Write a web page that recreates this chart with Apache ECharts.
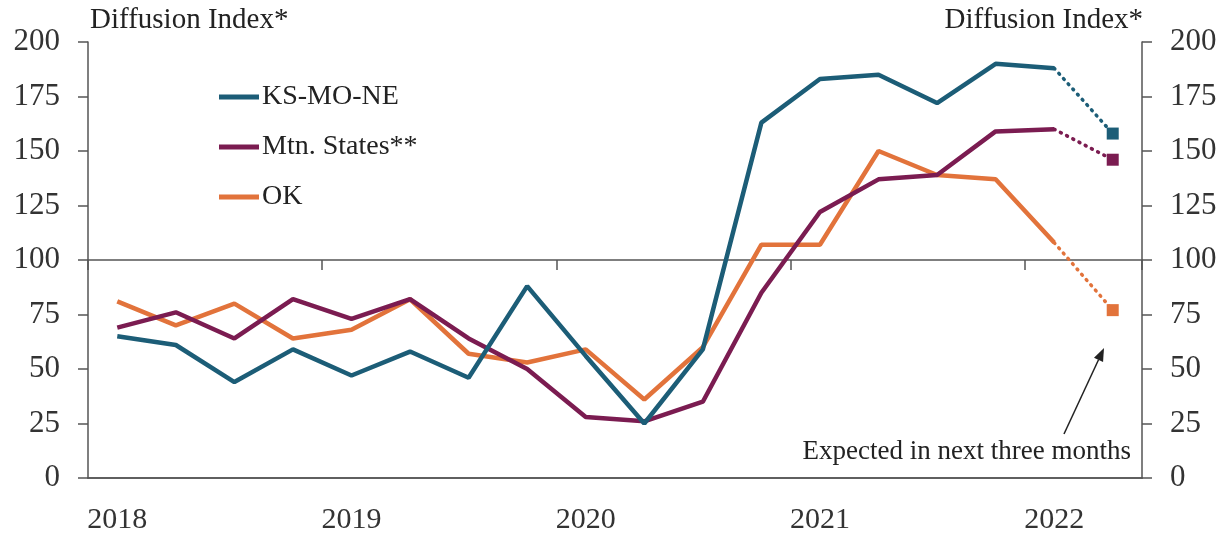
<!DOCTYPE html>
<html>
<head>
<meta charset="utf-8">
<script src="https://cdn.jsdelivr.net/npm/echarts@6/dist/echarts.min.js"></script>
<style>
html, body { margin: 0; background: #fff; }
#chart { width: 1229px; height: 539px; }
</style>
</head>
<body>
<div id="chart"></div>
<script>
// quarterly, 2018Q1 .. 2022Q2 (last quarter is the expectation)
const quarters = ['2018Q1','2018Q2','2018Q3','2018Q4','2019Q1','2019Q2','2019Q3','2019Q4',
    '2020Q1','2020Q2','2020Q3','2020Q4','2021Q1','2021Q2','2021Q3','2021Q4','2022Q1','2022Q2'];
const names = ['KS-MO-NE', 'Mtn. States**', 'OK'];
const ksmone = [65, 61, 44, 59, 47, 58, 46, 88, 56, 25, 59, 163, 183, 185, 172, 190, 188];
const mtn    = [69, 76, 64, 82, 73, 82, 64, 50, 28, 26, 35, 85, 122, 137, 139, 159, 160];
const ok     = [81, 70, 80, 64, 68, 82, 57, 53, 59, 36, 60, 107, 107, 150, 139, 137, 108];
const expected = [158, 146, 77];
const yMin = 0, yMax = 200, yStep = 25;

const COLORS = ['#1c5d77', '#7b1c51', '#e2733b'];
const FONT = 'Liberation Serif';
const AXIS = '#555';

const chart = echarts.init(document.getElementById('chart'));

const actual = [ksmone, mtn, ok];
const series = [];
actual.forEach(function (vals, i) {
    series.push({
        name: names[i],
        type: 'line',
        xAxisIndex: 0,
        data: vals.concat([null]),
        symbol: 'none',
        lineStyle: { width: 4.5, color: COLORS[i] },
        itemStyle: { color: COLORS[i] },
        z: 3 + (2 - i)
    });
    const dotted = quarters.map(function () { return null; });
    dotted[vals.length - 1] = vals[vals.length - 1];
    dotted[vals.length] = expected[i];
    series.push({
        name: names[i] + ' exp',
        type: 'line',
        xAxisIndex: 0,
        data: dotted,
        symbol: 'none',
        lineStyle: { width: 3.5, color: COLORS[i], type: [1, 6], cap: 'round' },
        z: 3
    });
    const sq = quarters.map(function () { return null; });
    sq[vals.length] = expected[i];
    series.push({
        name: names[i] + ' sq',
        type: 'scatter',
        xAxisIndex: 0,
        data: sq,
        symbol: 'rect',
        symbolSize: 12,
        itemStyle: { color: COLORS[i], opacity: 1 },
        z: 4
    });
});

// arrow for the annotation
const tail = [1064, 434], tip = [1104, 348];
const dx = tip[0] - tail[0], dy = tip[1] - tail[1];
const len = Math.sqrt(dx * dx + dy * dy);
const ux = dx / len, uy = dy / len;
const hl = 13, hw = 5;
const base = [tip[0] - ux * hl, tip[1] - uy * hl];

const option = {
    backgroundColor: '#fff',
    animation: false,
    grid: { left: 88, right: 87, top: 42, bottom: 61 },
    legend: {
        data: names,
        orient: 'vertical',
        left: 214,
        top: 78,
        itemWidth: 40,
        itemHeight: 5,
        itemGap: 22,
        icon: 'rect',
        textStyle: { fontFamily: FONT, fontSize: 28, color: '#222', padding: [0, 0, 0, -2] }
    },
    xAxis: [{
        type: 'category',
        data: quarters,
        position: 'bottom',
        boundaryGap: true,
        axisLine: { show: true, lineStyle: { color: AXIS, width: 1.5 } },
        axisTick: { show: false },
        axisLabel: {
            interval: function (idx) { return idx % 4 === 0; },
            formatter: function (v) { return v.slice(0, 4); },
            fontFamily: FONT, fontSize: 30, color: '#333', margin: 27
        }
    }, {
        type: 'category',
        data: quarters,
        position: 'top',
        boundaryGap: true,
        axisLine: { show: true, lineStyle: { color: AXIS, width: 1.5 } },
        axisTick: { show: false },
        axisLabel: { show: false }
    }, {
        type: 'category',
        data: quarters,
        position: 'top',
        offset: -218,
        boundaryGap: true,
        axisLine: { show: true, lineStyle: { color: AXIS, width: 1.5 } },
        axisTick: {
            show: true, inside: true, length: 10,
            interval: function (idx) { return idx % 4 === 0; },
            lineStyle: { color: AXIS, width: 1.5 }
        },
        axisLabel: { show: false }
    }],
    yAxis: [{
        type: 'value', position: 'left', min: yMin, max: yMax, interval: yStep,
        axisLine: { show: true, lineStyle: { color: AXIS, width: 1.5 } },
        axisTick: { show: true, length: 10, lineStyle: { color: AXIS, width: 1.5 } },
        axisLabel: { fontFamily: FONT, fontSize: 31, color: '#333', margin: 28 },
        splitLine: { show: false }
    }, {
        type: 'value', position: 'right', min: yMin, max: yMax, interval: yStep,
        axisLine: { show: true, lineStyle: { color: AXIS, width: 1.5 } },
        axisTick: { show: true, length: 10, lineStyle: { color: AXIS, width: 1.5 } },
        axisLabel: { fontFamily: FONT, fontSize: 31, color: '#333', margin: 28 },
        splitLine: { show: false }
    }],
    graphic: [{
        type: 'text', left: 90, top: 6,
        style: { text: 'Diffusion Index*', font: '29px "Liberation Serif"', fill: '#222' }
    }, {
        type: 'text', right: 86, top: 6,
        style: { text: 'Diffusion Index*', font: '29px "Liberation Serif"', fill: '#222' }
    }, {
        type: 'text', right: 98, top: 438,
        style: { text: 'Expected in next three months', font: '27px "Liberation Serif"', fill: '#222' }
    }, {
        type: 'line',
        shape: { x1: tail[0], y1: tail[1], x2: base[0], y2: base[1] },
        style: { stroke: '#222', lineWidth: 1.5 }
    }, {
        type: 'polygon',
        shape: { points: [tip, [base[0] - uy * hw, base[1] + ux * hw], [base[0] + uy * hw, base[1] - ux * hw]] },
        style: { fill: '#222' }
    }],
    series: series
};

chart.setOption(option);
</script>
</body>
</html>
